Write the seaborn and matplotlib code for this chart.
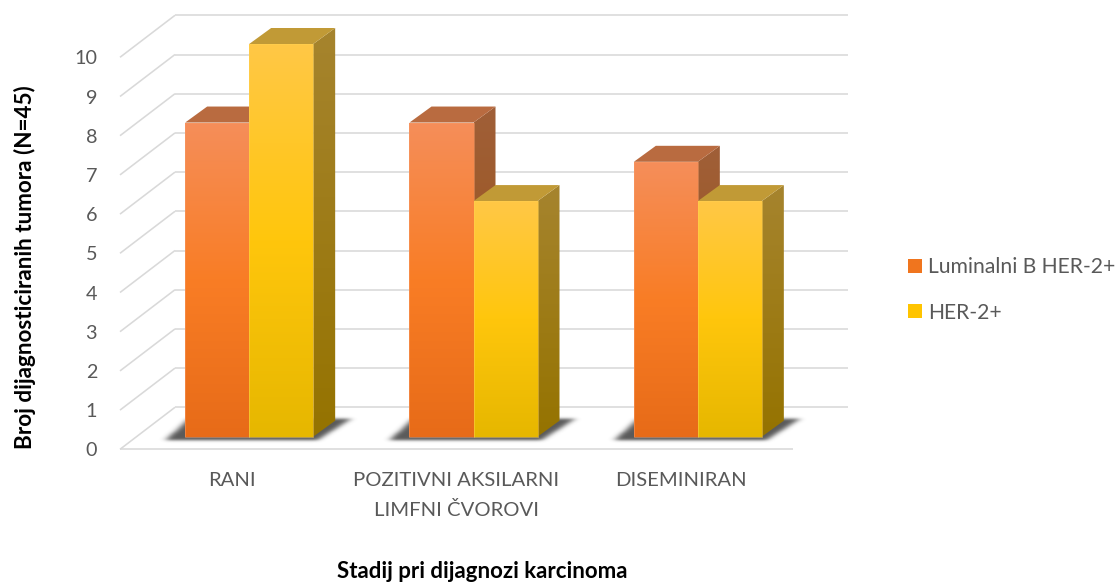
import numpy as np
import pandas as pd
import matplotlib
matplotlib.use("Agg")
import matplotlib.pyplot as plt
from matplotlib.colors import LinearSegmentedColormap, to_rgb
from matplotlib.patches import Polygon, Patch
from matplotlib.path import Path
import seaborn as sns

# ---- data ----
categories = ["RANI", "POZITIVNI AKSILARNI\nLIMFNI ČVOROVI", "DISEMINIRAN"]
series_names = ["Luminalni B HER-2+", "HER-2+"]
luminal_b = [8, 8, 7]
her2 = [10, 6, 6]
y_ticks = list(range(0, 11))
y_label = "Broj dijagnosticiranih tumora (N=45)"
x_label = "Stadij pri dijagnozi karcinoma"

# ---- styles ----
W, H = 1120, 583
TEXT = "#595959"
GRID = "#D9D9D9"
front_stops = {0: ["#F58E5A", "#F97D25", "#E76B18"], 1: ["#FFC846", "#FFC60C", "#E6B700"]}
side_stops = {0: ["#A05F38", "#98520F"], 1: ["#A6842E", "#957300"]}
top_cols = {0: "#B96B40", 1: "#C19A36"}
edge_cols = {0: "#F79A66", 1: "#FFD050"}
legend_cols = {0: "#F0751E", 1: "#FFC400"}

sns.set_theme(style="white")
plt.rcParams["font.family"] = ["Lato", "DejaVu Sans"]

fig = plt.figure(figsize=(W / 100, H / 100), dpi=100, facecolor="white")


def px_axes(x0, x1, ybottom, ytop):
    return fig.add_axes([x0 / W, 1 - ybottom / H, (x1 - x0) / W, (ybottom - ytop) / H])


# frame axes: front plane of the chart
FX0, FX1, FY0, UNIT = 120, 793, 449.3, 39.2
ax = px_axes(FX0, FX1, FY0, FY0 - 10 * UNIT)
ax.set_xlim(-0.5, 2.5)
ax.set_ylim(0, 10)
ax.patch.set_alpha(0)
for s in ax.spines.values():
    s.set_visible(False)
ax.set_yticks(y_ticks)
ax.set_yticklabels([str(v) for v in y_ticks], fontsize=14.2, color=TEXT)
ax.set_xticks(range(len(categories)))
ax.set_xticklabels(categories, fontsize=14.6, color=TEXT, linespacing=1.85, va="top")
ax.tick_params(axis="y", length=0, pad=16.5)
ax.tick_params(axis="x", length=0, pad=16)
ax.set_ylabel(y_label, fontsize=16.2, fontweight="bold", color="black")
ax.yaxis.set_label_coords((36 - FX0) / (FX1 - FX0), 0.464)
ax.set_xlabel(x_label, fontsize=16, fontweight="bold", color="black")
ax.xaxis.set_label_coords((482 - FX0) / (FX1 - FX0), (FY0 - 572) / (10 * UNIT))
ax.xaxis.label.set_va("center")

# walls of the box, projected from the tick values
wall_dx = 3 * 55 / (FX1 - FX0)
wall_dy = 42 / UNIT
line_kw = dict(color=GRID, lw=1.15, clip_on=False, solid_capstyle="butt", zorder=1)
for v in y_ticks:
    ax.plot([-0.5, -0.5 + wall_dx], [v, v + wall_dy], **line_kw)
    ax.plot([-0.5 + wall_dx, 2.5 + wall_dx], [v + wall_dy] * 2, **line_kw)
ax.plot([-0.5, 2.5], [0, 0], **line_kw)

# bars axes: plane in which the bars stand
BX0, BY0, BUNIT, CAT = 137, 436.7, 39.27, 224.33
bar_lim = (-0.5, 11)
ax2 = px_axes(BX0, BX0 + (FX1 - FX0), BY0 - bar_lim[0] * BUNIT, BY0 - bar_lim[1] * BUNIT)
ax2.patch.set_alpha(0)

df = pd.DataFrame({
    "stage": categories * 2,
    "series": [series_names[0]] * 3 + [series_names[1]] * 3,
    "count": luminal_b + her2,
})
sns.barplot(data=df, x="stage", y="count", hue="series", order=categories, hue_order=series_names,
            palette=[legend_cols[0], legend_cols[1]], width=128 / CAT, gap=0, dodge=True,
            legend=False, ax=ax2, saturation=1, errorbar=None)

depth_x = 22 / CAT
depth_y = 16 / BUNIT


def grad_fill(a, verts, stops, z):
    """Fill a polygon with a vertical gradient."""
    verts = np.array(verts)
    poly = Polygon(verts, closed=True, transform=a.transData, facecolor="none", edgecolor="none")
    a.add_patch(poly)
    cmap = LinearSegmentedColormap.from_list("g", [to_rgb(c) for c in stops])
    g = np.linspace(0, 1, 256)[:, None]
    im = a.imshow(g, cmap=cmap, aspect="auto", origin="upper", interpolation="bilinear", zorder=z,
                  extent=(verts[:, 0].min(), verts[:, 0].max(), verts[:, 1].min(), verts[:, 1].max()))
    im.set_clip_path(poly)
    return im


def soft_shadow(a, x0, x1):
    """Blurred floor shadow under a pair of bars spanning x0..x1 (offsets in pixels)."""
    span = (x1 - x0) * CAT
    px0, px1 = -40, span + 60
    py0, py1 = -12, 30
    xs = np.arange(px0, px1 + 1.0)
    ys = np.arange(py0, py1 + 1.0)
    gx, gy = np.meshgrid(xs, ys)
    outline = Path([(-20, -3.4), (span + 4, -3.4), (span + 37, 18), (3, 18)])
    mask = outline.contains_points(np.c_[gx.ravel(), gy.ravel()]).reshape(gx.shape).astype(float)
    t = np.arange(-10, 11)
    kern = np.exp(-t ** 2 / (2 * 3.4 ** 2))
    kern /= kern.sum()
    mask = np.apply_along_axis(lambda r: np.convolve(r, kern, mode="same"), 1, mask)
    kern2 = np.exp(-t ** 2 / (2 * 1.4 ** 2))
    kern2 /= kern2.sum()
    mask = np.apply_along_axis(lambda r: np.convolve(r, kern2, mode="same"), 0, mask)
    rgba = np.zeros(mask.shape + (4,))
    rgba[..., :3] = to_rgb("#3C3C3C")
    rgba[..., 3] = mask * 0.85
    a.imshow(rgba, origin="lower", aspect="auto", interpolation="bilinear", zorder=1.5,
             extent=(x0 + px0 / CAT, x0 + px1 / CAT, py0 / BUNIT, py1 / BUNIT))


for i, container in enumerate(ax2.containers):
    for bar in container:
        x0, w, h = bar.get_x(), bar.get_width(), bar.get_height()
        x1 = x0 + w
        if i == 0:
            soft_shadow(ax2, x0, x0 + 2 * w)
        zb = 3 + i
        # side and top faces
        grad_fill(ax2, [(x1, 0), (x1 + depth_x, depth_y), (x1 + depth_x, h + depth_y), (x1, h)],
                  side_stops[i], zb)
        ax2.add_patch(Polygon([(x0, h), (x1, h), (x1 + depth_x, h + depth_y), (x0 + depth_x, h + depth_y)],
                              closed=True, facecolor=top_cols[i], edgecolor="none", zorder=zb + 0.1))
        # front face
        bar.set_zorder(zb + 0.2)
        bar.set_edgecolor("none")
        grad_fill(ax2, [(x0, 0), (x1, 0), (x1, h), (x0, h)], front_stops[i], zb + 0.3)
        ax2.add_patch(Polygon([(x0, 0), (x1, 0), (x1, h), (x0, h)], closed=True, facecolor="none",
                              edgecolor=edge_cols[i], lw=0.6, alpha=0.6, zorder=zb + 0.4))

ax2.set_xlim(-0.5, 2.5)
ax2.set_ylim(*bar_lim)
ax2.set_axis_off()

# legend
handles = [Patch(facecolor=legend_cols[i], edgecolor="none", label=series_names[i]) for i in range(2)]
leg = fig.legend(handles=handles, loc="center left", bbox_to_anchor=(908 / W, 1 - 290 / H), frameon=False,
                 fontsize=15.2, labelcolor=TEXT, handlelength=0.66, handleheight=0.66,
                 handletextpad=0.3, labelspacing=1.2, borderpad=0, borderaxespad=0)

# gradient on the legend swatches, placed where the legend put its handles
fig.canvas.draw()
for i, handle in enumerate(leg.legend_handles):
    box = handle.get_window_extent().transformed(fig.transFigure.inverted())
    sw = fig.add_axes(box.bounds)
    cmap = LinearSegmentedColormap.from_list("s", [to_rgb(c) for c in front_stops[i]])
    sw.imshow(np.linspace(0, 1, 32)[:, None], cmap=cmap, aspect="auto", origin="upper")
    sw.set_axis_off()

fig.savefig("out.png", dpi=100, facecolor="white")
